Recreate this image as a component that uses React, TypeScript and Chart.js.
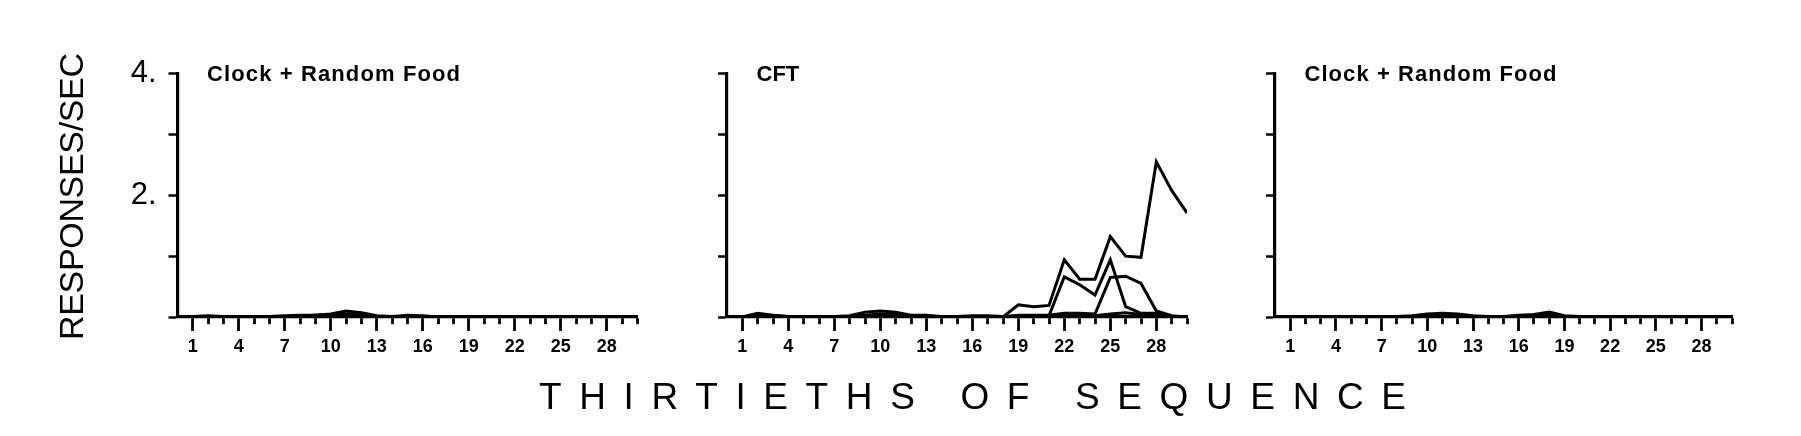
import React, { useEffect, useRef } from 'react';
import { Chart, registerables } from 'chart.js';

Chart.register(...registerables);

// ---------------- data ----------------
const SEGMENTS = [1, 2, 3, 4, 5, 6, 7, 8, 9, 10, 11, 12, 13, 14, 15, 16, 17, 18, 19, 20, 21, 22, 23, 24, 25, 26, 27, 28, 29, 30];
const X_TICK_LABELS = [1, 4, 7, 10, 13, 16, 19, 22, 25, 28];
const Y_TICK_LABELS = ['', '', '2.', '', '4.']; // for 0,1,2,3,4
const PANEL_TITLES = ['Clock + Random Food', 'CFT', 'Clock + Random Food'];
const Y_TITLE = 'RESPONSES/SEC';
const X_TITLE = 'THIRTIETHS OF SEQUENCE';

// Panel 1: Clock + Random Food
const P1_A = [0.01, 0.02, 0.01, 0, 0, 0.01, 0.02, 0.03, 0.03, 0.05, 0.1, 0.07, 0.02, 0.01, 0.03, 0.02, 0, 0, 0, 0, 0, 0, 0, 0, 0, 0, 0, 0, 0, 0];
const P1_B = [0, 0.01, 0.01, 0, 0, 0, 0.01, 0.02, 0.03, 0.04, 0.05, 0.03, 0.01, 0, 0.01, 0, 0, 0, 0, 0, 0, 0, 0, 0, 0, 0, 0, 0, 0, 0];
const P1_C = [0, 0, 0, 0, 0, 0, 0, 0.01, 0.01, 0.02, 0.02, 0.01, 0, 0, 0, 0, 0, 0, 0, 0, 0, 0, 0, 0, 0, 0, 0, 0, 0, 0];
const P1_D = [0, 0, 0, 0, 0, 0, 0, 0, 0, 0.01, 0.01, 0, 0, 0, 0, 0, 0, 0, 0, 0, 0, 0, 0, 0, 0, 0, 0, 0, 0, 0];

// Panel 2: CFT
const P2_A = [0, 0.03, 0.02, 0, 0, 0, 0, 0.01, 0.02, 0.03, 0.02, 0.02, 0.01, 0, 0, 0.01, 0.01, 0, 0.2, 0.17, 0.19, 0.94, 0.62, 0.62, 1.32, 1.0, 0.98, 2.55, 2.08, 1.71];
const P2_B = [0, 0.06, 0.03, 0.01, 0, 0, 0.01, 0.02, 0.08, 0.1, 0.08, 0.03, 0.03, 0.01, 0.01, 0.02, 0.02, 0.01, 0.02, 0.02, 0.02, 0.66, 0.53, 0.36, 0.94, 0.17, 0.06, 0.06, 0.01, 0];
const P2_C = [0, 0.04, 0.02, 0.01, 0, 0, 0, 0.01, 0.03, 0.05, 0.04, 0.02, 0.01, 0, 0, 0, 0, 0, 0.03, 0.03, 0.03, 0.06, 0.06, 0.05, 0.65, 0.67, 0.55, 0.1, 0.02, 0];
const P2_D = [0, 0.02, 0.01, 0, 0, 0, 0, 0, 0.01, 0.02, 0.01, 0, 0, 0, 0, 0, 0, 0, 0, 0, 0, 0.02, 0.03, 0.02, 0.05, 0.07, 0.04, 0.02, 0.01, 0];

// Panel 3: Clock + Random Food
const P3_A = [0.01, 0.01, 0.01, 0.01, 0, 0, 0, 0.01, 0.02, 0.05, 0.06, 0.05, 0.02, 0.01, 0.01, 0.03, 0.04, 0.08, 0.02, 0.01, 0.01, 0.01, 0.01, 0.01, 0, 0.01, 0.01, 0.01, 0, 0];
const P3_B = [0, 0.01, 0, 0, 0, 0, 0, 0, 0.01, 0.03, 0.04, 0.03, 0.01, 0, 0, 0.02, 0.02, 0.04, 0.01, 0, 0, 0, 0, 0, 0, 0, 0, 0, 0, 0];
const P3_C = [0, 0, 0, 0, 0, 0, 0, 0, 0, 0.01, 0.02, 0.01, 0, 0, 0, 0.01, 0.01, 0.02, 0, 0, 0, 0, 0, 0, 0, 0, 0, 0, 0, 0];
const P3_D = [0, 0, 0, 0, 0, 0, 0, 0, 0, 0, 0.01, 0, 0, 0, 0, 0, 0, 0.01, 0, 0, 0, 0, 0, 0, 0, 0, 0, 0, 0, 0];

const PANEL_SERIES = [
  [P1_A, P1_B, P1_C, P1_D],
  [P2_A, P2_B, P2_C, P2_D],
  [P3_A, P3_B, P3_C, P3_D],
];

// ---------------- layout ----------------
const W = 1801;
const H = 436;
const AREA_TOP = 73.5;
const AREA_BOTTOM = 317;
const PANEL_BOXES = [
  { left: 177.5, right: 637.5 },
  { left: 727, right: 1187 },
  { left: 1275, right: 1732 },
];
const TITLE_WIDTHS = [253, 0, 252];
const Y_AXIS_W = 60;
const X_AXIS_H = 60;
const FONT = '"Liberation Sans", Arial, Helvetica, sans-serif';

function drawFitted(ctx: CanvasRenderingContext2D, text: string, x: number, y: number, target: number) {
  (ctx as any).letterSpacing = '0px';
  if (target > 0) {
    const w0 = ctx.measureText(text).width;
    const ls = (target - w0) / Math.max(1, text.length - 1);
    (ctx as any).letterSpacing = ls.toFixed(2) + 'px';
  }
  ctx.textAlign = 'left';
  ctx.fillText(text, x, y);
  (ctx as any).letterSpacing = '0px';
}

const textPlugin = {
  id: 'panelText',
  afterDraw(chart: any) {
    const opts = chart.options.plugins.panelText || {};
    const ctx: CanvasRenderingContext2D = chart.ctx;
    const area = chart.chartArea;
    ctx.save();
    ctx.fillStyle = '#000';
    ctx.textBaseline = 'alphabetic';
    if (opts.title) {
      ctx.font = `bold 22px ${FONT}`;
      drawFitted(ctx, opts.title, area.left + 29.5, area.top + 7.5, opts.titleWidth || 0);
    }
    if (opts.yTitle) {
      ctx.save();
      ctx.translate(83, 340);
      ctx.rotate(-Math.PI / 2);
      ctx.font = `34px ${FONT}`;
      drawFitted(ctx, opts.yTitle, 0, 0, 287);
      ctx.restore();
    }
    if (opts.xTitle) {
      ctx.font = `37px ${FONT}`;
      drawFitted(ctx, opts.xTitle, 539, 409, 867);
    }
    ctx.restore();
  },
};

function makeConfig(i: number): any {
  const box = PANEL_BOXES[i];
  const showY = i === 0;
  return {
    type: 'line',
    data: {
      datasets: PANEL_SERIES[i].map((s) => ({
        data: SEGMENTS.map((x, k) => ({ x, y: s[k] })),
        borderColor: '#000',
        borderWidth: 3,
        pointRadius: 0,
        tension: 0,
        fill: false,
      })),
    },
    options: {
      animation: false,
      responsive: false,
      devicePixelRatio: 1,
      events: [],
      layout: {
        padding: {
          left: box.left - Y_AXIS_W,
          right: W - box.right,
          top: AREA_TOP,
          bottom: H - AREA_BOTTOM - X_AXIS_H,
        },
      },
      plugins: {
        legend: { display: false },
        tooltip: { enabled: false },
        panelText: {
          title: PANEL_TITLES[i],
          titleWidth: TITLE_WIDTHS[i],
          yTitle: i === 0 ? Y_TITLE : '',
          xTitle: i === 0 ? X_TITLE : '',
        },
      },
      scales: {
        x: {
          type: 'linear',
          min: 0,
          max: 30,
          afterFit: (s: any) => {
            s.height = X_AXIS_H;
          },
          ticks: {
            stepSize: 1,
            autoSkip: false,
            maxRotation: 0,
            padding: 5,
            color: '#000',
            font: { family: FONT, size: 18, weight: 'bold' },
            callback: (v: number) => (X_TICK_LABELS.includes(v) ? String(v) : ''),
          },
          grid: {
            drawOnChartArea: false,
            drawTicks: true,
            tickLength: 14,
            tickWidth: 2.8,
            tickColor: (c: any) => (c.tick && c.tick.value === 0 ? 'rgba(0,0,0,0)' : '#000'),
            tickBorderDash: (c: any) => (c.tick && X_TICK_LABELS.includes(c.tick.value) ? [] : [6, 60]),
          },
          border: { display: true, color: '#000', width: 3.2 },
        },
        y: {
          type: 'linear',
          min: 0,
          max: 4,
          afterFit: (s: any) => {
            s.width = Y_AXIS_W;
          },
          ticks: {
            stepSize: 1,
            padding: 12,
            color: '#000',
            font: { family: FONT, size: 31 },
            callback: (v: number) => (showY ? Y_TICK_LABELS[v] ?? '' : ''),
          },
          grid: {
            drawOnChartArea: false,
            drawTicks: true,
            tickLength: 9,
            tickWidth: 2.5,
            tickColor: '#000',
          },
          border: { display: true, color: '#000', width: 3.2 },
        },
      },
    },
    plugins: [textPlugin],
  };
}

export default function App() {
  const r1 = useRef<HTMLCanvasElement>(null);
  const r2 = useRef<HTMLCanvasElement>(null);
  const r3 = useRef<HTMLCanvasElement>(null);

  useEffect(() => {
    const charts = [r1, r2, r3].map((r, i) => new Chart(r.current as HTMLCanvasElement, makeConfig(i)));
    return () => charts.forEach((c) => c.destroy());
  }, []);

  const cs: React.CSSProperties = { position: 'absolute', left: 0, top: 0, width: W, height: H };
  return (
    <div style={{ position: 'absolute', left: 0, top: 0, width: W, height: H, background: '#fff', overflow: 'hidden' }}>
      <canvas ref={r1} width={W} height={H} style={cs} />
      <canvas ref={r2} width={W} height={H} style={cs} />
      <canvas ref={r3} width={W} height={H} style={cs} />
    </div>
  );
}
